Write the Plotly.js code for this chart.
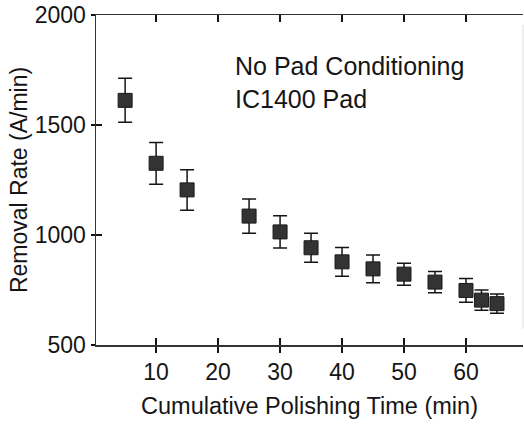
<!DOCTYPE html>
<html>
<head>
<meta charset="utf-8">
<script src="https://cdn.plot.ly/plotly-3.0.1.min.js"></script>
<style>html,body{margin:0;padding:0;background:#fff;overflow:hidden;}</style>
</head>
<body>
<div id="chart" style="width:524px;height:425px;"></div>
<script>
// Data
const timeMin = [5, 10, 15, 25, 30, 35, 40, 45, 50, 55, 60, 62.5, 65];
const removalRate = [1612, 1326, 1205, 1086, 1014, 942, 878, 846, 822, 786, 748, 704, 688];
const rateError = [100, 95, 92, 78, 73, 66, 65, 63, 50, 48, 54, 46, 44];
const yTicks = [500, 1000, 1500, 2000];
const xTicks = [10, 20, 30, 40, 50, 60];
const annotationLines = ["No Pad Conditioning", "IC1400 Pad"];

const FONT = "Liberation Sans, Arial, Helvetica, sans-serif";
const INK = "#151515";

const trace = {
  x: timeMin,
  y: removalRate,
  type: "scatter",
  mode: "markers",
  marker: {symbol: "square", size: 14, color: "#333", line: {color: "#1a1a1a", width: 1}},
  error_y: {type: "data", array: rateError, visible: true, color: INK, thickness: 1.5, width: 7},
  showlegend: false,
  hoverinfo: "skip"
};
const dummy = {x: [], y: [], xaxis: "x2", yaxis: "y2", type: "scatter", mode: "markers", showlegend: false};

const layout = {
  width: 524, height: 425,
  margin: {l: 96, r: 1, t: 15, b: 80, pad: 0},
  paper_bgcolor: "#fff", plot_bgcolor: "#fff",
  font: {family: FONT, color: INK, size: 23},
  xaxis: {
    range: [0.3, 69.2], tickvals: xTicks, ticktext: xTicks.map(String),
    ticks: "outside", ticklen: 6, tickwidth: 1.5, tickcolor: INK,
    showline: true, linecolor: "#333", linewidth: 1.5, mirror: false,
    showgrid: false, zeroline: false,
    tickfont: {size: 23, family: FONT, color: INK},
    ticklabelstandoff: 0,
    title: {text: "Cumulative Polishing Time (min)", font: {size: 23.5, family: FONT, color: INK}, standoff: 13}
  },
  yaxis: {
    range: [500, 2000], tickvals: yTicks, ticktext: yTicks.map(String),
    ticks: "outside", ticklen: 4, tickwidth: 1.5, tickcolor: INK,
    showline: true, linecolor: "#333", linewidth: 1.5, mirror: false,
    showgrid: false, zeroline: false,
    tickfont: {size: 23, family: FONT, color: INK},
    ticklabelstandoff: 0,
    title: {text: "Removal Rate (A/min)", font: {size: 23, family: FONT, color: INK}, standoff: 0}
  },
  xaxis2: {
    overlaying: "x", anchor: "y2", range: [0.3, 69.2], tickvals: xTicks,
    ticks: "inside", ticklen: 7, tickwidth: 1.5, tickcolor: INK,
    showticklabels: false, showline: true, linecolor: "#333", linewidth: 1.5, mirror: "ticks",
    showgrid: false, zeroline: false
  },
  yaxis2: {
    overlaying: "y", anchor: "x2", range: [500, 2000], tickvals: yTicks.slice(1, 3),
    ticks: "inside", ticklen: 6, tickwidth: 1.5, tickcolor: INK,
    showticklabels: false, showline: false, mirror: false,
    showgrid: false, zeroline: false
  },
  shapes: [{type: "line", xref: "paper", yref: "paper", x0: 1, x1: 1, y0: 0.05, y1: 0.97,
            line: {color: "#ddd", width: 1}}],
  annotations: [{
    xref: "paper", yref: "paper", x: 0.322, y: 0.893, xanchor: "left", yanchor: "top",
    align: "left", showarrow: false,
    text: annotationLines.join("<br>"),
    font: {size: 25, family: FONT, color: INK}
  }]
};

Plotly.newPlot("chart", [trace, dummy], layout, {displayModeBar: false, staticPlot: true});
</script>
</body>
</html>
